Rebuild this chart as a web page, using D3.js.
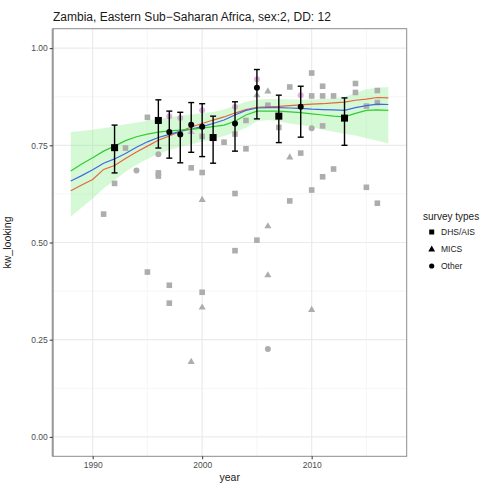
<!DOCTYPE html>
<html><head><meta charset="utf-8">
<script src="https://cdn.jsdelivr.net/npm/d3@7"></script>
<style>body{margin:0;background:#fff}svg{display:block;font-family:"Liberation Sans",Arial,sans-serif}</style>
</head><body><svg id="c" width="483" height="485"></svg>
<script>
const titleText = "Zambia, Eastern Sub\u2212Saharan Africa, sex:2, DD: 12";
const xTicks = [1990, 2000, 2010];
const xMinor = [1995, 2005, 2015];
const yTicks = [0, 0.25, 0.5, 0.75, 1];
const yMinor = [0.125, 0.375, 0.625, 0.875];
const legendLabels = ["DHS/AIS", "MICS", "Other"];

const years = d3.range(1988, 2018);
const fitGreen = [0.684,0.702,0.718,0.735,0.748,0.762,0.772,0.779,0.784,0.787,0.789,0.791,0.794,0.798,0.802,0.812,0.828,0.838,0.838,0.838,0.836,0.834,0.831,0.828,0.825,0.823,0.832,0.840,0.841,0.840];
const fitBlue = [0.658,0.672,0.687,0.704,0.715,0.729,0.745,0.759,0.770,0.778,0.786,0.792,0.798,0.806,0.815,0.828,0.840,0.846,0.847,0.847,0.846,0.845,0.843,0.842,0.841,0.840,0.847,0.852,0.856,0.855];
const fitRed = [0.633,0.648,0.662,0.688,0.698,0.716,0.733,0.748,0.763,0.774,0.786,0.797,0.806,0.815,0.823,0.833,0.842,0.848,0.849,0.850,0.852,0.854,0.856,0.857,0.859,0.861,0.866,0.869,0.873,0.872];
const bandUpper = [0.784,0.787,0.790,0.794,0.799,0.804,0.808,0.814,0.818,0.822,0.826,0.829,0.833,0.836,0.842,0.852,0.862,0.868,0.869,0.869,0.868,0.868,0.868,0.869,0.871,0.874,0.885,0.894,0.898,0.900];
const bandLower = [0.566,0.590,0.613,0.639,0.660,0.682,0.700,0.715,0.728,0.738,0.746,0.753,0.760,0.767,0.774,0.783,0.795,0.812,0.815,0.812,0.806,0.802,0.797,0.790,0.785,0.780,0.775,0.768,0.762,0.755];

const dhsPoints = [[1991,0.573],[1992,0.652],[1993,0.743],[1995,0.822],[1995,0.424],[1996,0.679],[1996,0.671],[1997,0.390],[1997,0.344],[1999,0.692],[2000,0.773],[2000,0.680],[2000,0.372],[2002,0.758],[2003,0.779],[2003,0.626],[2003,0.479],[2004,0.814],[2004,0.741],[2005,0.506],[2006,0.853],[2007,0.796],[2008,0.900],[2008,0.607],[2009,0.730],[2010,0.936],[2010,0.877],[2010,0.635],[2011,0.902],[2011,0.877],[2011,0.800],[2011,0.669],[2012,0.877],[2012,0.689],[2014,0.909],[2014,0.886],[2015,0.851],[2015,0.642],[2016,0.891],[2016,0.860],[2016,0.601]];
const micsPoints = [[2000,0.611],[2000,0.334],[1999,0.194],[2005,0.880],[2006,0.890],[2006,0.543],[2006,0.417],[2008,0.720],[2010,0.328]];
const otherPoints = [[1994,0.685],[1996,0.727],[2006,0.226],[2010,0.794]];
const purpleCircles = [[1997,0.825],[1998,0.820],[2000,0.840],[2003,0.849],[2005,0.920],[2009,0.879]];
const purpleTriangles = [[1999,0.786]];

const meanYears = [1992,1996,1997,1998,1999,2000,2001,2003,2005,2007,2009,2013];
const meanValues = [0.744,0.814,0.784,0.778,0.803,0.798,0.770,0.806,0.898,0.825,0.849,0.820];
const meanLow = [0.679,0.743,0.717,0.705,0.732,0.721,0.704,0.735,0.818,0.757,0.771,0.750];
const meanHigh = [0.802,0.867,0.838,0.835,0.860,0.857,0.825,0.862,0.945,0.879,0.902,0.872];
const meanType = ["DHS/AIS","DHS/AIS","Other","Other","Other","Other","DHS/AIS","Other","Other","DHS/AIS","Other","DHS/AIS"];

const svg = d3.select("#c");
const L = 52.7, R = 406.7, T = 28.7, B = 456.3;
const x = d3.scaleLinear().domain([1986.35, 2018.68]).range([L, R]);
const y = d3.scaleLinear().domain([-0.05, 1.05]).range([B, T]);

// grid
const g = svg.append("g");
g.selectAll(".xm").data(xMinor).join("line").attr("x1", d=>x(d)).attr("x2", d=>x(d)).attr("y1", T).attr("y2", B).attr("stroke", "#f4f4f4").attr("stroke-width", 0.8);
g.selectAll(".ym").data(yMinor).join("line").attr("y1", d=>y(d)).attr("y2", d=>y(d)).attr("x1", L).attr("x2", R).attr("stroke", "#f4f4f4").attr("stroke-width", 0.8);
g.selectAll(".xg").data(xTicks).join("line").attr("x1", d=>x(d)).attr("x2", d=>x(d)).attr("y1", T).attr("y2", B).attr("stroke", "#ebebeb").attr("stroke-width", 1.2);
g.selectAll(".yg").data(yTicks).join("line").attr("y1", d=>y(d)).attr("y2", d=>y(d)).attr("x1", L).attr("x2", R).attr("stroke", "#ebebeb").attr("stroke-width", 1.2);

// ribbon
const idx = d3.range(years.length);
svg.append("path").datum(idx)
  .attr("d", d3.area().x(i=>x(years[i])).y0(i=>y(bandLower[i])).y1(i=>y(bandUpper[i])))
  .attr("fill", "#90ee90").attr("fill-opacity", 0.38);

// gray points
const pg = svg.append("g").attr("fill", "#adadad");
const sq = 5.6;
pg.selectAll(".d").data(dhsPoints).join("rect").attr("x", d=>x(d[0])-sq/2).attr("y", d=>y(d[1])-sq/2).attr("width", sq).attr("height", sq);
const tri = d3.symbol().type(d3.symbolTriangle).size(22);
pg.selectAll(".m").data(micsPoints).join("path").attr("d", tri).attr("transform", d=>`translate(${x(d[0])},${y(d[1])+0.5})`);
pg.selectAll(".o").data(otherPoints).join("circle").attr("cx", d=>x(d[0])).attr("cy", d=>y(d[1])).attr("r", 3);

// purple points
const pp = svg.append("g").attr("fill", "#c873c8").attr("fill-opacity", 0.55);
pp.selectAll(".pc").data(purpleCircles).join("circle").attr("cx", d=>x(d[0])).attr("cy", d=>y(d[1])).attr("r", 3);
pp.selectAll(".pt").data(purpleTriangles).join("path").attr("d", tri).attr("transform", d=>`translate(${x(d[0])},${y(d[1])+0.5})`);

// fitted lines
const lineGen = arr => d3.line().x(i=>x(years[i])).y(i=>y(arr[i]))(idx);
[[fitRed,"#e8643f"],[fitBlue,"#4169e1"],[fitGreen,"#32cd32"]].forEach(([arr,col])=>{
  svg.append("path").attr("d", lineGen(arr)).attr("fill","none").attr("stroke", col).attr("stroke-width", 1.2);
});

// error bars + means
const eb = svg.append("g").attr("stroke", "#000").attr("stroke-width", 1.4);
const mi = d3.range(meanYears.length);
eb.selectAll(".v").data(mi).join("line").attr("x1", i=>x(meanYears[i])).attr("x2", i=>x(meanYears[i])).attr("y1", i=>y(meanLow[i])).attr("y2", i=>y(meanHigh[i]));
eb.selectAll(".t").data(mi).join("line").attr("x1", i=>x(meanYears[i])-3).attr("x2", i=>x(meanYears[i])+3).attr("y1", i=>y(meanHigh[i])).attr("y2", i=>y(meanHigh[i]));
eb.selectAll(".b").data(mi).join("line").attr("x1", i=>x(meanYears[i])-3).attr("x2", i=>x(meanYears[i])+3).attr("y1", i=>y(meanLow[i])).attr("y2", i=>y(meanLow[i]));
const mg = svg.append("g").attr("fill", "#000");
const bs = 7;
mg.selectAll(".ms").data(mi.filter(i=>meanType[i]==="DHS/AIS")).join("rect").attr("x", i=>x(meanYears[i])-bs/2).attr("y", i=>y(meanValues[i])-bs/2).attr("width", bs).attr("height", bs);
mg.selectAll(".mc").data(mi.filter(i=>meanType[i]!=="DHS/AIS")).join("circle").attr("cx", i=>x(meanYears[i])).attr("cy", i=>y(meanValues[i])).attr("r", 3);

// panel border
svg.append("rect").attr("x", L).attr("y", T).attr("width", R-L).attr("height", B-T).attr("fill", "none").attr("stroke", "#8c8c8c").attr("stroke-width", 1);
svg.append("line").attr("x1", L).attr("x2", L).attr("y1", T).attr("y2", B).attr("stroke", "#999").attr("stroke-width", 2);

// axes
const ax = svg.append("g").attr("transform", `translate(0,${B})`).call(d3.axisBottom(x).tickValues(xTicks).tickFormat(d3.format("d")).tickSize(3).tickPadding(3));
const ay = svg.append("g").attr("transform", `translate(${L},0)`).call(d3.axisLeft(y).tickValues(yTicks).tickFormat(d3.format(".2f")).tickSize(3).tickPadding(2));
[ax, ay].forEach(a=>{
  a.select(".domain").remove();
  a.selectAll(".tick line").attr("stroke", "#333").attr("stroke-width", 1);
  a.selectAll(".tick text").attr("fill", "#4d4d4d").style("font-size", "8.5px").style("font-family", '"Liberation Sans",Arial,sans-serif');
});

// titles
svg.append("text").attr("x", 53).attr("y", 21).text(titleText).attr("fill", "#1a1a1a").style("font-size", "12px");
svg.append("text").attr("x", (L+R)/2).attr("y", 481).attr("text-anchor", "middle").text("year").attr("fill", "#1a1a1a").style("font-size", "10.5px");
svg.append("text").attr("transform", `translate(11,${(T+B)/2}) rotate(-90)`).attr("text-anchor", "middle").text("kw_looking").attr("fill", "#1a1a1a").style("font-size", "10.5px");

// legend
const lg = svg.append("g");
lg.append("text").attr("x", 423).attr("y", 220).text("survey types").attr("fill", "#1a1a1a").style("font-size", "10px");
const ly = [232, 249, 266];
lg.append("rect").attr("x", 429.2).attr("y", ly[0]-2.5).attr("width", 5).attr("height", 5).attr("fill", "#000");
lg.append("path").attr("d", d3.symbol().type(d3.symbolTriangle).size(20)).attr("transform", `translate(431.7,${ly[1]+0.5})`).attr("fill", "#000");
lg.append("circle").attr("cx", 431.7).attr("cy", ly[2]).attr("r", 2.6).attr("fill", "#000");
lg.selectAll(".lt").data(legendLabels).join("text").attr("x", 441).attr("y", (d,i)=>ly[i]+3).text(d=>d).attr("fill", "#1a1a1a").style("font-size", "8.5px");
</script></body></html>
